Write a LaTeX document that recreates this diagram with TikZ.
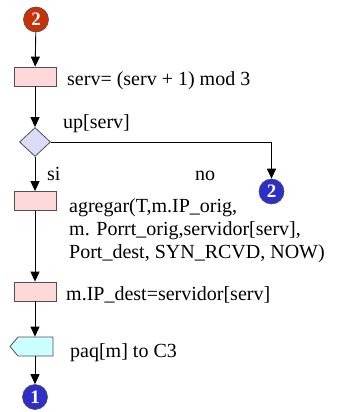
\documentclass[tikz,border=0pt]{standalone}
\usepackage{fontspec}
\setmainfont{Liberation Serif}
\usetikzlibrary{arrows.meta,shapes.geometric,shapes.symbols}

\definecolor{procfill}{HTML}{FFD9D9}
\definecolor{decfill}{HTML}{DCDCFA}
\definecolor{sendfill}{HTML}{CCFFFF}
\definecolor{connred}{HTML}{C83208}
\definecolor{connblue}{HTML}{2E2EC8}
\definecolor{edge}{HTML}{505050}

\tikzset{
  flow/.style={draw=black, line width=0.9pt, -{Triangle[length=10pt,width=9pt]}},
  procbox/.style={draw=edge, line width=0.8pt, fill=procfill, minimum width=42pt, minimum height=19pt, inner sep=0pt},
  decbox/.style={diamond, draw=edge, line width=0.8pt, fill=decfill, minimum width=31pt, minimum height=29pt, inner sep=0pt},
  sendbox/.style={signal, signal to=west, signal pointer angle=100, draw=edge, line width=0.8pt, fill=sendfill, minimum width=43pt, minimum height=19pt, inner sep=0pt},
  conn/.style={circle, draw=edge, line width=0.6pt, minimum size=25pt, inner sep=0pt, text=white, font=\fontsize{19}{19}\selectfont\bfseries},
  lbl/.style={anchor=base west, inner sep=0pt, font=\fontsize{20}{23}\selectfont, align=left}
}

\begin{document}
\begin{tikzpicture}[x=1pt, y=-1pt]
  \useasboundingbox (0,0) rectangle (344,412);

  % shapes along the main column
  \node[conn, fill=connred] (start) at (36,19.5) {2};
  \node[procbox] (inc) at (35,76.5) {};
  \node[decbox] (test) at (35,142) {};
  \node[procbox] (add) at (35,201) {};
  \node[procbox] (dest) at (35,291.5) {};
  \node[sendbox] (send) at (35.5,346.5) {};
  \node[conn, fill=connblue] (out) at (35,397) {1};
  \node[conn, fill=connblue] (back) at (271.5,191.5) {2};
  \coordinate (turn) at (back.north |- test.east);

  % texts beside the shapes (the three-line label is placed by its last baseline)
  \node[lbl] (tinc) at (67,85) {serv= (serv + 1) mod 3};
  \node[lbl] (ttest) at (63,128) {up[serv]};
  \node[lbl] (tsi) at (47,180) {si};
  \node[lbl] (tno) at (195,180) {no};
  \node[lbl] (tadd) at (69,258) {agregar(T,m.IP\_orig,\\m. Porrt\_orig,servidor[serv],\\Port\_dest, SYN\_RCVD, NOW)};
  \node[lbl] (tdest) at (66,300) {m.IP\_dest=servidor[serv]};
  \node[lbl] (tsend) at (70,357) {paq[m] to C3};

  % connectors
  \draw[flow] (start) -- (inc);
  \draw[flow] (inc) -- (test);
  \draw[flow] (test) -- (add);
  \draw[flow] (test.east) -- (turn) -- (back);
  \draw[flow] (add) -- (dest);
  \draw[flow] (dest.south) -- (dest.south |- send.north);
  \draw[flow] (send.south -| out) -- (out);
\end{tikzpicture}
\end{document}
